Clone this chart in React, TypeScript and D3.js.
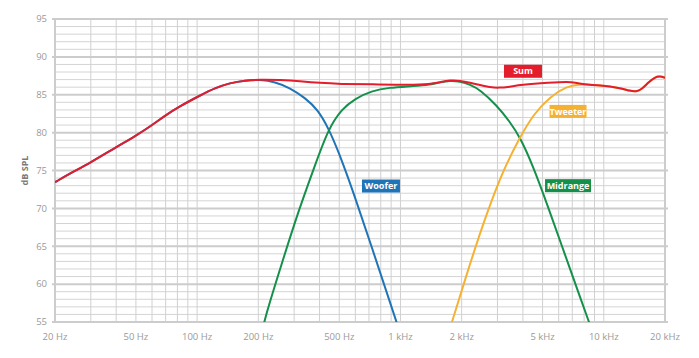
import React from "react";
import * as d3 from "d3";

type Pt = [number, number];

const sumData: Pt[] = [
  [20, 73.45], [23.7, 74.6], [29.7, 76.0], [40, 78.1], [50, 79.6], [58.7, 80.8], [69.5, 82.25],
  [82.4, 83.5], [103.3, 84.9], [122.4, 85.9], [145.1, 86.55], [172, 86.9], [203.8, 87.0],
  [255.8, 86.95], [320.6, 86.8], [402, 86.55], [504, 86.42], [722, 86.38], [1114, 86.3],
  [1397, 86.4], [1565, 86.65], [1753, 86.93], [1963, 86.85], [2199, 86.6], [2462, 86.3],
  [2757, 86.0], [3029, 85.9], [3458, 86.05], [3874, 86.3], [5439, 86.6], [6690, 86.72],
  [7219, 86.6], [7930, 86.35], [9574, 86.25], [12012, 85.9], [13458, 85.5], [14404, 85.4],
  [15416, 85.75], [16500, 86.6], [17864, 87.35], [18904, 87.45], [20000, 87.25],
];

const wooferData: Pt[] = [
  [20, 73.45], [23.7, 74.6], [29.7, 76.0], [40, 78.1], [50, 79.6], [58.7, 80.8], [69.5, 82.25],
  [82.4, 83.5], [103.3, 84.9], [122.4, 85.9], [145.1, 86.55], [172, 86.9], [203.8, 87.0],
  [241.6, 86.7], [286.3, 85.9], [339.3, 84.6], [393.2, 83.0], [441.9, 80.6], [494.6, 77.6],
  [598, 71.5], [722, 64.9], [871, 58.3], [995, 53.6],
];

const midrangeData: Pt[] = [
  [208, 53.3], [213.3, 55.2], [260.6, 62.7], [314.5, 69.6], [380, 75.7], [441.9, 80.5],
  [514, 83.1], [598, 84.5], [722, 85.5], [871, 85.95], [1179, 86.15], [1397, 86.35],
  [1565, 86.65], [1753, 86.86], [1963, 86.75], [2199, 86.35], [2462, 85.65], [2974, 83.6],
  [3458, 81.4], [3874, 79.4], [4501, 75.5], [5240, 70.7], [6325, 64.5], [7641, 58.3],
  [8455, 55], [8751, 53.9],
];

const tweeterData: Pt[] = [
  [1753, 54.15], [2199, 62.75], [2656, 69.35], [3205, 75.1], [3874, 79.4], [4501, 82.4],
  [5439, 84.75], [6570, 86.1], [7641, 86.45], [9574, 86.25], [12012, 85.9], [13458, 85.5],
  [14404, 85.4], [15416, 85.75], [16500, 86.6], [17864, 87.35], [18904, 87.45], [20000, 87.25],
];

const yTicks = [95, 90, 85, 80, 75, 70, 65, 60, 55];
const xTickValues = [20, 50, 100, 200, 500, 1000, 2000, 5000, 10000, 20000];
const xTickLabels = ["20 Hz", "50 Hz", "100 Hz", "200 Hz", "500 Hz", "1 kHz", "2 kHz", "5 kHz", "10 kHz", "20 kHz"];
const xGridValues = [
  20, 30, 40, 50, 60, 70, 80, 90, 100, 200, 300, 400, 500, 600, 700, 800, 900, 1000,
  2000, 3000, 4000, 5000, 6000, 7000, 8000, 9000, 10000, 20000,
];

const seriesNames = ["Woofer", "Midrange", "Tweeter", "Sum"];
const seriesColors = ["#1f74b8", "#14904a", "#f5b232", "#e31d2c"];
const seriesData = [wooferData, midrangeData, tweeterData, sumData];
// label anchors (frequency, dB) for the series tags
const labelFreqs = [802, 6670, 6670, 4005];
const labelDbs = [72.95, 73.0, 82.8, 88.1];
const labelWidths = [38, 46, 37, 38];

const W = 699;
const H = 358;

export default function App() {
  const x = d3.scaleLog().domain([20, 20000]).range([55, 665]);
  const y = d3.scaleLinear().domain([55, 95]).range([322, 19]);
  const line = d3
    .line<Pt>()
    .x((d) => x(d[0]))
    .y((d) => y(d[1]))
    .curve(d3.curveBasis);

  const dbLines = d3.range(55, 96, 1);
  const font = "'Open Sans', 'Segoe UI', sans-serif";

  return (
    <svg
      width={W}
      height={H}
      style={{ position: "absolute", left: 0, top: 0, background: "#fff" }}
      fontFamily={font}
    >
      <defs>
        <clipPath id="plotclip">
          <rect x={x(20)} y={y(95) - 5} width={x(20000) - x(20)} height={y(55) - y(95) + 5} />
        </clipPath>
      </defs>
      {dbLines
        .filter((v) => v % 5 !== 0)
        .map((v) => (
          <line key={"h" + v} x1={x(20)} x2={x(20000)} y1={y(v)} y2={y(v)} stroke="#d4d4d4" strokeWidth={1} />
        ))}
      {xGridValues.map((v) => (
        <line key={"v" + v} x1={x(v)} x2={x(v)} y1={y(95)} y2={y(55)} stroke="#d0d0d0" strokeWidth={1} />
      ))}
      {yTicks.map((v) => (
        <line key={"H" + v} x1={x(20) - 3} x2={x(20000) + 3} y1={y(v)} y2={y(v)} stroke="#cccccc" strokeWidth={2} />
      ))}
      <line x1={x(20)} x2={x(20)} y1={y(95)} y2={y(55) + 1} stroke="#cccccc" strokeWidth={2} />
      <line x1={x(20000)} x2={x(20000)} y1={y(95)} y2={y(55) + 1} stroke="#cccccc" strokeWidth={2} />

      {yTicks.map((v) => (
        <text key={"yl" + v} x={47} y={y(v)} dy="0.35em" textAnchor="end" fontSize={9.5} fill="#9a9a9a">
          {v}
        </text>
      ))}
      {xTickValues.map((v, i) => (
        <text key={"xl" + v} x={x(v)} y={340} textAnchor="middle" fontSize={9.5} fill="#9a9a9a">
          {xTickLabels[i]}
        </text>
      ))}
      <text
        transform={`translate(28,${(y(95) + y(55)) / 2}) rotate(-90)`}
        textAnchor="middle"
        fontSize={9}
        fontWeight="bold"
        fill="#7a7a7a"
      >
        dB SPL
      </text>

      <g clipPath="url(#plotclip)">
        {seriesData.map((data, i) => (
          <path key={seriesNames[i]} d={line(data) || ""} fill="none" stroke={seriesColors[i]} strokeWidth={2} />
        ))}
      </g>

      {seriesNames.map((name, i) => {
        const cx = x(labelFreqs[i]);
        const cy = y(labelDbs[i]);
        const w = labelWidths[i];
        return (
          <g key={"lab" + name}>
            <rect x={cx - w / 2} y={cy - 6.5} width={w} height={13} fill={seriesColors[i]} />
            <text x={cx} y={cy} dy="0.35em" textAnchor="middle" fontSize={9} fontWeight="bold" fill="#ffffff">
              {name}
            </text>
          </g>
        );
      })}
    </svg>
  );
}
